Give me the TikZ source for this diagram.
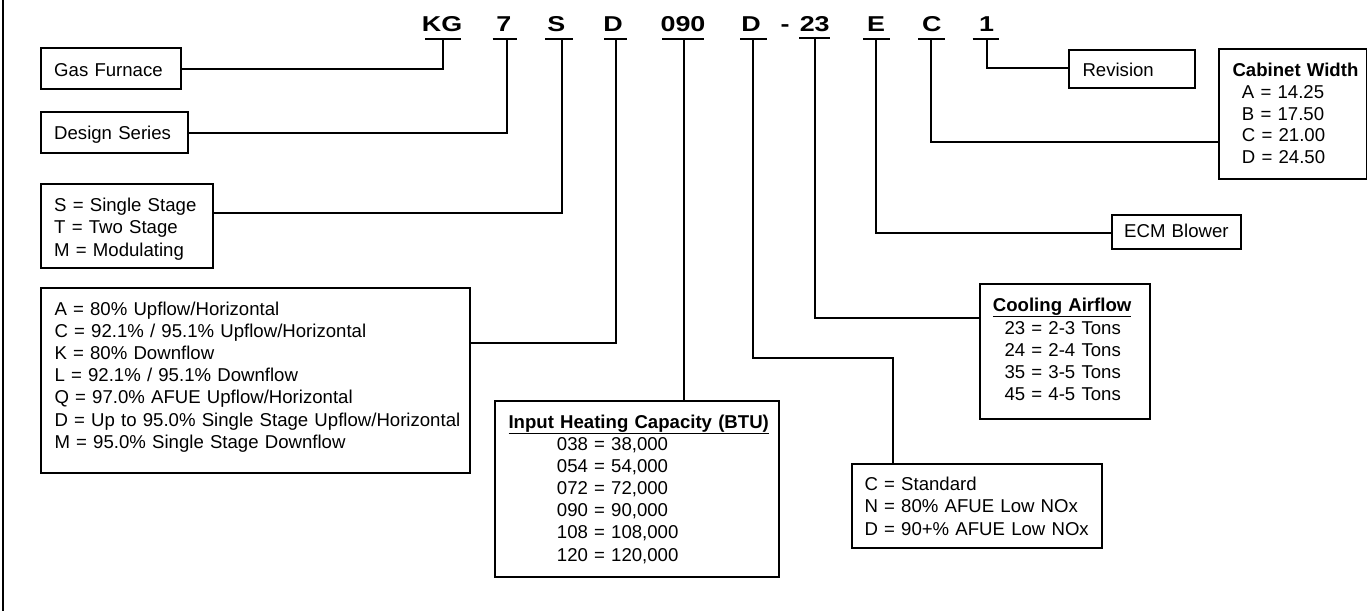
\documentclass[tikz,border=0pt]{standalone}
\usepackage{fontspec}
\setmainfont{Liberation Sans}
\begin{document}
\begin{tikzpicture}[x=1pt,y=-1pt,
  box/.style={draw, line width=2pt, inner sep=0pt, anchor=north west},
  conn/.style={line width=2pt},
  code/.style={font=\fontsize{21.5}{21.5}\selectfont\bfseries, anchor=base, inner sep=0pt},
  txt/.style={font=\fontsize{18.6}{22.2}\selectfont, anchor=base west, inner sep=0pt, align=left, text width=430pt},
  cab/.style={font=\fontsize{18.6}{21.7}\selectfont, anchor=base west, inner sep=0pt, align=left, text width=130pt}]
\useasboundingbox (0,0) rectangle (1367,611);
% frame edge
\draw[conn] (3,0) -- (3,611);
% code letters
\node[code] (cKG) at (442,31) {\scalebox{1.25}[1]{KG}};
\node[code] (c7) at (503.8,31) {\scalebox{1.25}[1]{7}};
\node[code] (cS) at (556.3,31) {\scalebox{1.25}[1]{S}};
\node[code] (cD) at (613,31) {\scalebox{1.25}[1]{D}};
\node[code] (c090) at (683,31) {\scalebox{1.25}[1]{090}};
\node[code] (cD2) at (751,31) {\scalebox{1.25}[1]{D}};
\node[code] (cdash) at (785,31) {\scalebox{1.25}[1]{-}};
\node[code] (c23) at (814.7,31) {\scalebox{1.25}[1]{23}};
\node[code] (cE) at (876,31) {\scalebox{1.25}[1]{E}};
\node[code] (cC) at (931.7,31) {\scalebox{1.25}[1]{C}};
\node[code] (c1) at (986.5,31) {\scalebox{1.25}[1]{1}};
% underline tick points
\coordinate (uKG) at (443.3,39.3);
\coordinate (u7) at (506.7,39.3);
\coordinate (uS) at (561.7,39.3);
\coordinate (uD) at (616.3,39.3);
\coordinate (u090) at (683.5,39.3);
\coordinate (uD2) at (753.3,39.3);
\coordinate (u23) at (814.7,38.3);
\coordinate (uE) at (876,39.3);
\coordinate (uC) at (931,39.3);
\coordinate (u1) at (986.7,39.3);
\draw[conn] (425,39.3) -- (461,39.3);
\draw[conn] (492.7,39.3) -- (516.7,39.3);
\draw[conn] (545.3,39.3) -- (573.3,39.3);
\draw[conn] (604,39.3) -- (626.7,39.3);
\draw[conn] (662,39.3) -- (704,39.3);
\draw[conn] (740,39.3) -- (766.7,39.3);
\draw[conn] (799,38.3) -- (830,38.3);
\draw[conn] (863,39.3) -- (890,39.3);
\draw[conn] (918,39.3) -- (945,39.3);
\draw[conn] (972.7,39.3) -- (999.3,39.3);
% boxes
\node[box, minimum width=140pt, minimum height=41pt] (gas) at (40,47.3) {};
\node[box, minimum width=146.7pt, minimum height=41.3pt] (design) at (40,111) {};
\node[box, minimum width=171.7pt, minimum height=84.6pt] (stage) at (40,182.7) {};
\node[box, minimum width=429.3pt, minimum height=185.6pt] (afue) at (40,286.7) {};
\node[box, minimum width=283.7pt, minimum height=176pt] (heat) at (494,400) {};
\node[box, minimum width=250.3pt, minimum height=84pt] (nox) at (850.7,462.7) {};
\node[box, minimum width=170pt, minimum height=134.4pt] (cool) at (979,283.3) {};
\node[box, minimum width=129pt, minimum height=34pt] (ecm) at (1111,214) {};
\node[box, minimum width=147.7pt, minimum height=130pt] (cabw) at (1218.3,48.3) {};
\node[box, minimum width=126pt, minimum height=38pt] (rev) at (1068.3,49.3) {};
% texts
\node[txt] (tgas) at (54,76) {Gas Furnace};
\node[txt] (tdes) at (54,139.5) {Design Series};
\node[txt] (tstage) at (54,211.7) {S = Single Stage\\T = Two Stage\\M = Modulating};
\node[txt] (tafue) at (54.3,315) {A = 80\% Upflow/Horizontal\\C = 92.1\% / 95.1\% Upflow/Horizontal\\K = 80\% Downflow\\L = 92.1\% / 95.1\% Downflow\\Q = 97.0\% AFUE Upflow/Horizontal\\D = Up to 95.0\% Single Stage Upflow/Horizontal\\M = 95.0\% Single Stage Downflow};
\node[txt] (theadH) at (508.3,428) {\textbf{\underline{Input Heating Capacity (BTU)}}};
\node[txt] (theat) at (556.7,450) {038 = 38,000\\054 = 54,000\\072 = 72,000\\090 = 90,000\\108 = 108,000\\120 = 120,000};
\node[txt] (tnox) at (864.3,490.7) {C = Standard\\N = 80\% AFUE Low NOx\\D = 90+\% AFUE Low NOx};
\node[txt] (theadC) at (992.7,311) {\textbf{\underline{Cooling Airflow}}};
\node[txt] (tcool) at (1004.3,334) {23 = 2-3 Tons\\24 = 2-4 Tons\\35 = 3-5 Tons\\45 = 4-5 Tons};
\node[txt] (tecm) at (1124,237) {ECM Blower};
\node[txt] (theadW) at (1232.3,76) {\textbf{Cabinet Width}};
\node[cab] (tcab) at (1241.7,98.3) {A = 14.25\\B = 17.50\\C = 21.00\\D = 24.50};
\node[txt] (trev) at (1082.3,76) {Revision};
% connectors
\draw[conn] (uKG) |- (gas.east);
\draw[conn] (u7) |- (design.east |- 0,133.3);
\draw[conn] (uS) |- (stage.east |- 0,213.3);
\draw[conn] (uD) |- (afue.east |- 0,343.3);
\draw[conn] (u090) -- (u090 |- heat.north);
\coordinate (bendD2) at (892.7,357.7);
\draw[conn] (uD2) |- (bendD2) -- (bendD2 |- nox.north);
\draw[conn] (u23) |- (cool.west |- 0,317.7);
\draw[conn] (uE) |- (ecm.west |- 0,232.7);
\draw[conn] (uC) |- (cabw.west |- 0,141.7);
\draw[conn] (u1) |- (rev.west |- 0,67.7);
\end{tikzpicture}
\end{document}
